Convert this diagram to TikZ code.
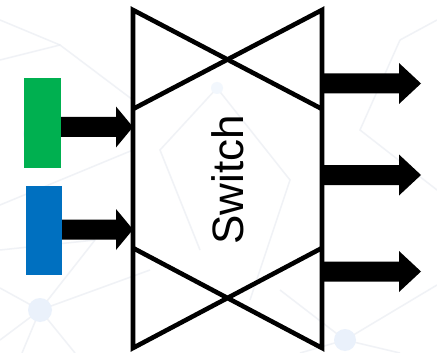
\documentclass[tikz,border=0pt]{standalone}
\usepackage{fontspec}
\setmainfont{Liberation Sans}
\usetikzlibrary{calc}

\definecolor{portgreen}{HTML}{00B050}
\definecolor{portblue}{HTML}{0070C0}
\definecolor{netline}{HTML}{E6EAF0}
\definecolor{netdot}{HTML}{EAF1FB}

% horizontal block arrow: #1 start, #2 tip, #3 head length
\newcommand\blockarrow[3]{%
  \fill let \p1=(#1), \p2=(#2) in
    (\x1,\y2+10pt) -- (\x2-#3,\y2+10pt) -- (\x2-#3,\y2+20.5pt) -- (\x2,\y2)
    -- (\x2-#3,\y2-20.5pt) -- (\x2-#3,\y2-10pt) -- (\x1,\y2-10pt) -- cycle;}

\begin{document}
\begin{tikzpicture}[x=1pt,y=-1pt,
  port/.style={draw=none,minimum width=37pt,minimum height=90pt,inner sep=0pt},
  swline/.style={line width=4.6pt,line join=miter,line cap=butt},
  net/.style={netline,line width=1.5pt},
  netnode/.style={circle,fill=netdot,draw=none,inner sep=0pt,minimum size=#1}]

\useasboundingbox (0,0) rectangle (437,353);
\fill[white] (0,0) rectangle (437,353);

% faint network backdrop
\begin{scope}[opacity=0.6]
  \draw[net] (40,310) -- (0,288);
  \draw[net] (40,310) -- (0,340);
  \draw[net] (40,310) -- (22,353);
  \draw[net] (40,310) -- (75,353);
  \draw[net] (40,310) -- (95,240);
  \draw[net] (40,310) -- (150,270);
  \draw[net] (0,250) -- (95,240);
  \draw[net] (0,205) -- (133,150);
  \draw[net] (0,60) -- (60,45) -- (133,100);
  \draw[net] (60,45) -- (0,20);
  \draw[net] (345,340) -- (280,290);
  \draw[net] (345,340) -- (437,285);
  \draw[net] (345,340) -- (300,353);
  \draw[net] (345,340) -- (400,353);
  \draw[net] (217,88) -- (160,150) -- (200,250);
  \draw[net] (217,88) -- (290,180) -- (250,300);
  \draw[net] (400,40) -- (437,20);
  \draw[net] (400,40) -- (360,130) -- (437,190);
\end{scope}
\node[netnode=24pt] (n1) at (40,310) {};
\node[netnode=22pt] (n2) at (345,340) {};
\node[netnode=12pt,fill=netdot!60] (n3) at (217,88) {};
\node[netnode=14pt,fill=netdot!60] (n4) at (30,134) {};

% switch body: two sides with a cross at each end
\coordinate (tl) at (133,10);
\coordinate (tr) at (322,10);
\coordinate (bl) at (133,348);
\coordinate (br) at (322,348);
\coordinate (tml) at (133,109);
\coordinate (tmr) at (322,109);
\coordinate (bml) at (133,248);
\coordinate (bmr) at (322,248);
\draw[swline] (tmr) -- (tl) -- (bl) -- (bmr);
\draw[swline] (tml) -- (tr) -- (br) -- (bml);

\node[rotate=90,inner sep=0pt,font=\fontsize{44}{44}\selectfont] (lbl) at (228,180) {Switch};

% input ports
\node[port,fill=portgreen] (g) at (42.5,123) {};
\node[port,fill=portblue,minimum width=36pt,minimum height=89pt] (b) at (44,230.5) {};

\coordinate (in1) at (133,127);
\coordinate (in2) at (133,229.5);
\blockarrow{g.east}{in1}{17pt}
\blockarrow{b.east}{in2}{17pt}

% output arrows
\coordinate (s1) at (322,83.5);
\coordinate (s2) at (322,175);
\coordinate (s3) at (322,271.5);
\coordinate (o1) at (421,83.5);
\coordinate (o2) at (421,175);
\coordinate (o3) at (421,271.5);
\blockarrow{s1}{o1}{22pt}
\blockarrow{s2}{o2}{22pt}
\blockarrow{s3}{o3}{22pt}

\end{tikzpicture}
\end{document}
